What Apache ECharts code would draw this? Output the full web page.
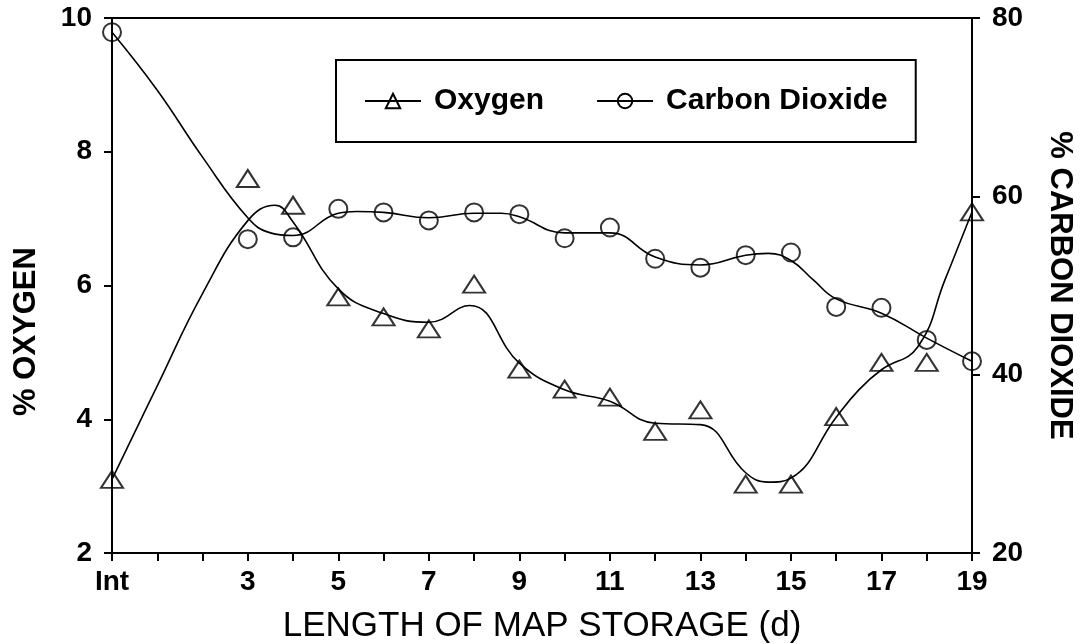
<!DOCTYPE html>
<html>
<head>
<meta charset="utf-8">
<script src="https://cdn.jsdelivr.net/npm/echarts@6/dist/echarts.min.js"></script>
<style>
  html, body { margin: 0; padding: 0; background: #fff; }
  #chart { width: 1084px; height: 644px; }
</style>
</head>
<body>
<div id="chart"></div>
<script>
// days of storage, 0 = initial
const days = [0, 3, 4, 5, 6, 7, 8, 9, 10, 11, 12, 13, 14, 15, 16, 17, 18, 19];
// measured points
const oxygenPts = [3.1, 7.6, 7.2, 5.83, 5.53, 5.35, 6.02, 4.75, 4.45, 4.33, 3.82, 4.14, 3.03, 3.03, 4.04, 4.85, 4.85, 7.1];
const co2Pts = [78.4, 55.2, 55.4, 58.6, 58.2, 57.3, 58.2, 58.0, 55.3, 56.5, 53.0, 52.0, 53.4, 53.7, 47.6, 47.5, 43.9, 41.5];

// fitted curves
const oxygenCurveX = [0, 1, 2, 3, 3.6, 4, 5, 6, 7, 7.9, 9, 10, 11, 12, 13, 14, 14.5, 15, 16, 16.5, 17, 17.8, 18.4, 19];
const oxygenCurveY = [3.1, 4.5, 5.88, 6.97, 7.2, 6.95, 5.95, 5.58, 5.45, 5.7, 4.84, 4.44, 4.27, 3.94, 3.92, 3.2, 3.06, 3.12, 4.03, 4.44, 4.74, 5.08, 6.08, 7.1];
const co2CurveX = [0, 1, 2, 3, 3.5, 4, 5, 5.4, 6, 7, 8, 8.6, 9, 10, 11, 12, 13, 14, 14.5, 15, 15.5, 16, 17, 18, 19];
const co2CurveY = [78.4, 71.9, 64.4, 57.6, 55.9, 55.6, 58.1, 58.3, 58.2, 57.6, 58.1, 58.1, 57.7, 55.9, 55.9, 53.2, 52.3, 53.4, 53.6, 52.8, 50.6, 48.5, 46.9, 44.1, 41.5];

const xTickLabels = {0: 'Int', 3: '3', 5: '5', 7: '7', 9: '9', 11: '11', 13: '13', 15: '15', 17: '17', 19: '19'};

const FONT = 'Liberation Sans, Arial, sans-serif';
const hollow = { color: 'rgba(0,0,0,0)', borderColor: '#000', borderWidth: 2 };

let myChart = echarts.init(document.getElementById('chart'));
let option = {
  animation: false,
  grid: {
    left: 112, right: 112, top: 18, bottom: 91,
    outerBoundsMode: 'none', containLabel: false,
    show: true, borderColor: '#000', borderWidth: 2, backgroundColor: 'transparent'
  },
  legend: {
    data: ['Oxygen', 'Carbon Dioxide'],
    left: 336, top: 60,
    padding: [26, 28, 26, 28],
    itemGap: 52,
    itemWidth: 56, itemHeight: 18,
    borderColor: '#000', borderWidth: 2,
    backgroundColor: '#fff',
    textStyle: { fontFamily: FONT, fontSize: 30, fontWeight: 'bold', color: '#000', padding: [0, 0, 0, 8] }
  },
  xAxis: {
    type: 'value', min: 0, max: 19, interval: 1,
    name: 'LENGTH OF MAP STORAGE (d)',
    nameLocation: 'middle', nameGap: 56,
    nameTextStyle: { fontFamily: FONT, fontSize: 35, color: '#000' },
    axisLine: { lineStyle: { color: '#000', width: 2 } },
    axisTick: { inside: false, length: 8, lineStyle: { color: '#000', width: 2 } },
    axisLabel: {
      margin: 15, fontFamily: FONT, fontSize: 28, fontWeight: 'bold', color: '#000',
      formatter: v => xTickLabels[v] || ''
    },
    splitLine: { show: false }
  },
  yAxis: [
    {
      type: 'value', min: 2, max: 10, interval: 2, position: 'left',
      name: '% OXYGEN', nameLocation: 'middle', nameGap: 70,
      nameTextStyle: { fontFamily: FONT, fontSize: 31, fontWeight: 'bold', color: '#000', padding: [0, 92, 0, 0] },
      axisLine: { show: true, lineStyle: { color: '#000', width: 2 } },
      axisTick: { show: true, length: 8, lineStyle: { color: '#000', width: 2 } },
      axisLabel: { margin: 20, fontFamily: FONT, fontSize: 28, fontWeight: 'bold', color: '#000' },
      splitLine: { show: false }
    },
    {
      type: 'value', min: 20, max: 80, interval: 20, position: 'right',
      name: '% CARBON DIOXIDE', nameLocation: 'middle', nameGap: 72, nameRotate: -90,
      nameTextStyle: { fontFamily: FONT, fontSize: 31, fontWeight: 'bold', color: '#000' },
      axisLine: { show: true, lineStyle: { color: '#000', width: 2 } },
      axisTick: { show: true, length: 8, lineStyle: { color: '#000', width: 2 } },
      axisLabel: { margin: 20, fontFamily: FONT, fontSize: 28, fontWeight: 'bold', color: '#000' },
      splitLine: { show: false }
    }
  ],
  series: [
    {
      name: 'Oxygen', type: 'line', yAxisIndex: 0, smooth: 0.45,
      symbol: 'triangle', symbolSize: [18, 15], showSymbol: false,
      itemStyle: hollow,
      lineStyle: { color: '#000', width: 1.6 },
      data: oxygenCurveX.map((x, i) => [x, oxygenCurveY[i]])
    },
    {
      name: 'Carbon Dioxide', type: 'line', yAxisIndex: 1, smooth: 0.45,
      symbol: 'circle', symbolSize: 16, showSymbol: false,
      itemStyle: hollow,
      lineStyle: { color: '#000', width: 1.6 },
      data: co2CurveX.map((x, i) => [x, co2CurveY[i]])
    },
    {
      name: 'Oxygen points', type: 'scatter', yAxisIndex: 0,
      symbol: 'triangle', symbolSize: [22, 17],
      itemStyle: hollow,
      data: days.map((d, i) => [d, oxygenPts[i]])
    },
    {
      name: 'CO2 points', type: 'scatter', yAxisIndex: 1,
      symbol: 'circle', symbolSize: 18,
      itemStyle: hollow,
      data: days.map((d, i) => [d, co2Pts[i]])
    }
  ]
};
option && myChart.setOption(option);
</script>
</body>
</html>
